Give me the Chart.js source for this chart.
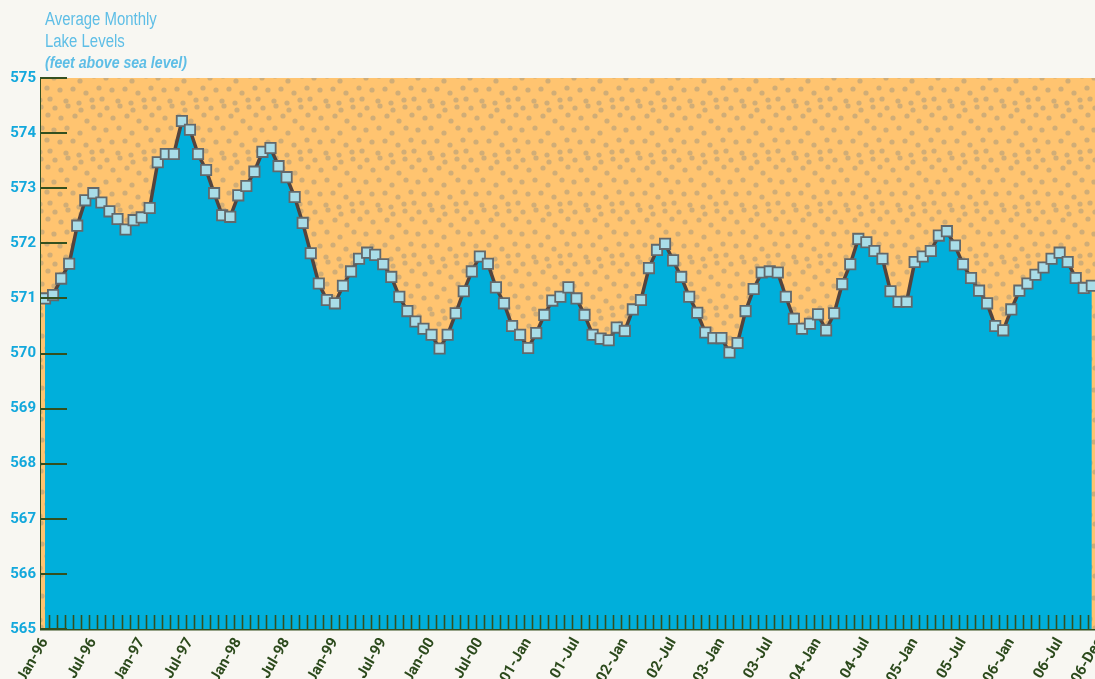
<!DOCTYPE html>
<html>
<head>
<meta charset="utf-8">
<title>Average Monthly Lake Levels</title>
<script src="https://cdn.jsdelivr.net/npm/chart.js@4.4.0/dist/chart.umd.min.js"></script>
<style>
  html, body { margin: 0; padding: 0; background: #f8f7f2; overflow: hidden; }
  #wrap { position: relative; width: 1095px; height: 679px; overflow: hidden; }
  #lakeChart { position: absolute; left: 0; top: 0; }
  #title {
    position: absolute; left: 45px; top: 8px;
    font-family: "Liberation Sans", Arial, sans-serif;
    color: #5ebee6; font-size: 18px; line-height: 22px;
    transform: scaleX(0.83); transform-origin: 0 0; white-space: nowrap;
  }
  #title .it { font-weight: bold; font-style: italic; font-size: 17px; }
</style>
</head>
<body>
<div id="wrap">
  <canvas id="lakeChart" width="1113" height="679"></canvas>
  <div id="title">
    <div>Average Monthly</div>
    <div>Lake Levels</div>
    <div class="it">(feet above sea level)</div>
  </div>
</div>
<script>
// monthly lake level, Jan-96 .. Nov-06 (feet above sea level)
const levels = [
  571.00, 571.06, 571.36, 571.63, 572.32, 572.78, 572.91, 572.74, 572.58, 572.44, 572.25, 572.42,
  572.47, 572.64, 573.47, 573.62, 573.62, 574.22, 574.06, 573.62, 573.33, 572.91, 572.51, 572.48,
  572.87, 573.04, 573.30, 573.66, 573.73, 573.40, 573.20, 572.84, 572.37, 571.82, 571.27, 570.97,
  570.91, 571.23, 571.49, 571.72, 571.83, 571.79, 571.62, 571.39, 571.03, 570.77, 570.58, 570.45,
  570.34, 570.09, 570.34, 570.73, 571.13, 571.49, 571.76, 571.63, 571.20, 570.91, 570.50, 570.34,
  570.10, 570.37, 570.70, 570.96, 571.03, 571.20, 571.00, 570.70, 570.34, 570.27, 570.24, 570.47,
  570.41, 570.80, 570.97, 571.55, 571.88, 571.99, 571.69, 571.39, 571.03, 570.74, 570.38, 570.28,
  570.28, 570.02, 570.19, 570.77, 571.17, 571.47, 571.49, 571.47, 571.03, 570.63, 570.45, 570.54,
  570.71, 570.42, 570.73, 571.26, 571.62, 572.08, 572.02, 571.86, 571.72, 571.13, 570.94, 570.94,
  571.66, 571.76, 571.86, 572.14, 572.22, 571.96, 571.62, 571.37, 571.14, 570.91, 570.50, 570.42,
  570.80, 571.14, 571.27, 571.43, 571.56, 571.72, 571.83, 571.66, 571.37, 571.19, 571.23
];

// x axis labels and the month index they sit on
const tickLabels = ['Jan-96', 'Jul-96', 'Jan-97', 'Jul-97', 'Jan-98', 'Jul-98', 'Jan-99', 'Jul-99',
  'Jan-00', 'Jul-00', '01-Jan', '01-Jul', '02-Jan', '02-Jul', '03-Jan', '03-Jul',
  '04-Jan', '04-Jul', '05-Jan', '05-Jul', '06-Jan', '06-Jul', '06-Dec'];
const tickMonths = [0, 6, 12, 18, 24, 30, 36, 42, 48, 54, 60, 66, 72, 78, 84, 90,
  96, 102, 108, 114, 120, 126, 131];

const yMin = 565;
const yMax = 575;

const axisColor = '#34501f';
const fontStack = 'Roboto, "Liberation Sans", sans-serif';

// sandy dotted texture for the area above the water
function makeSand() {
  const c = document.createElement('canvas');
  c.width = 52; c.height = 52;
  const g = c.getContext('2d');
  g.fillStyle = '#ffc470';
  g.fillRect(0, 0, 52, 52);
  g.fillStyle = '#d0ad77';
  const dots = [[3, 4], [16, 2], [29, 6], [41, 3], [9, 14], [23, 12], [35, 17], [48, 11],
    [2, 26], [15, 24], [28, 29], [42, 24], [8, 38], [21, 37], [34, 41], [47, 36],
    [14, 49], [27, 51], [40, 48], [50, 47]];
  dots.forEach(([x, y]) => {
    [-52, 0, 52].forEach(dx => [-52, 0, 52].forEach(dy => {
      g.beginPath();
      g.arc(x + dx, y + dy, 2.6, 0, Math.PI * 2);
      g.fill();
    }));
  });
  return c;
}

const sandBackground = {
  id: 'sandBackground',
  beforeDatasetsDraw(chart) {
    const { ctx, chartArea } = chart;
    ctx.save();
    ctx.fillStyle = ctx.createPattern(makeSand(), 'repeat');
    ctx.fillRect(chartArea.left, chartArea.top, chartArea.right - chartArea.left, chartArea.bottom - chartArea.top);
    ctx.restore();
  }
};

// ticks that point into the plot, like the original
const innerTicks = {
  id: 'innerTicks',
  afterDatasetsDraw(chart) {
    const { ctx, chartArea, scales } = chart;
    ctx.save();
    ctx.strokeStyle = axisColor;
    ctx.lineWidth = 2;
    scales.y.ticks.forEach(t => {
      const py = Math.round(scales.y.getPixelForValue(t.value));
      ctx.beginPath();
      ctx.moveTo(chartArea.left, py);
      ctx.lineTo(chartArea.left + 26, py);
      ctx.stroke();
    });
    ctx.lineWidth = 1.6;
    for (let i = 0; i < levels.length; i++) {
      const px = Math.round(scales.x.getPixelForValue(i + 0.5)) + 0.5;
      ctx.beginPath();
      ctx.moveTo(px, chartArea.bottom - 14);
      ctx.lineTo(px, chartArea.bottom);
      ctx.stroke();
    }
    ctx.restore();
  }
};

new Chart(document.getElementById('lakeChart'), {
  type: 'line',
  data: {
    datasets: [{
      data: levels.map((v, i) => ({ x: i, y: v })),
      borderColor: '#54443e',
      borderWidth: 3.5,
      backgroundColor: '#00afdb',
      fill: 'start',
      tension: 0,
      pointStyle: 'rect',
      pointRadius: 7.3,
      pointBackgroundColor: '#a9dde8',
      pointBorderColor: '#62686b',
      pointBorderWidth: 1.8
    }]
  },
  options: {
    responsive: false,
    animation: false,
    devicePixelRatio: 1,
    // canvas is a bit wider than the picture, so the plot runs past the right edge
    layout: { padding: { top: 78, right: 6, bottom: 0, left: 0 } },
    plugins: {
      legend: { display: false },
      tooltip: { enabled: false }
    },
    scales: {
      x: {
        type: 'linear',
        min: -0.5,
        max: 131.5,
        afterBuildTicks: s => { s.ticks = tickMonths.map(v => ({ value: v })); },
        afterFit: s => { s.height = 50; s.paddingLeft = 0; s.paddingRight = 0; },
        grid: { display: false, drawTicks: false },
        border: { display: true, color: axisColor, width: 2.5 },
        ticks: {
          autoSkip: false,
          maxRotation: 60,
          minRotation: 60,
          padding: 6,
          color: '#2c4a1c',
          font: { family: fontStack, size: 15, weight: 'bold' },
          callback: v => tickLabels[tickMonths.indexOf(v)]
        }
      },
      y: {
        min: yMin,
        max: yMax,
        afterFit: s => { s.width = 41; },
        grid: { display: false, drawTicks: false },
        border: { display: true, color: axisColor, width: 2 },
        ticks: {
          stepSize: 1,
          padding: 5,
          color: '#13a8dc',
          font: { family: fontStack, size: 15, weight: 'bold' }
        }
      }
    }
  },
  plugins: [sandBackground, innerTicks]
});
</script>
</body>
</html>
